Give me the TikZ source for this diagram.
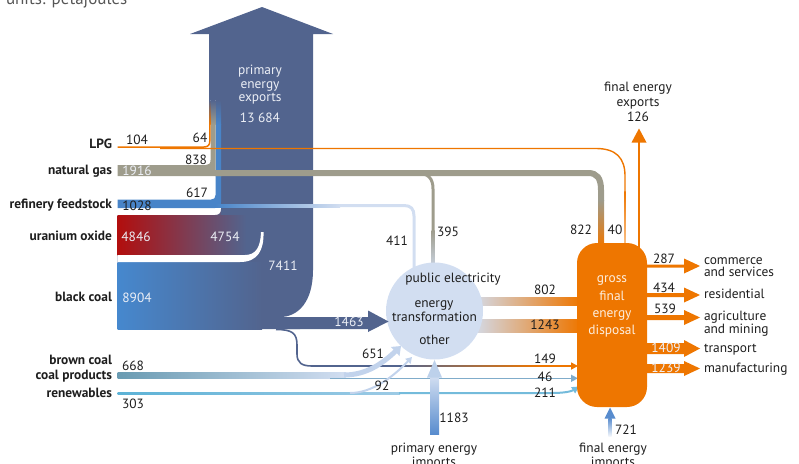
\documentclass[tikz,border=0pt]{standalone}
\usepackage{fontspec}
\setmainfont{PT Sans}
\usetikzlibrary{arrows.meta}
\definecolor{slate}{RGB}{82,100,142}
\definecolor{eorange}{RGB}{238,118,0}
\definecolor{lorange}{RGB}{250,195,140}
\definecolor{gasgray}{RGB}{158,156,140}
\definecolor{refblue}{RGB}{72,132,200}
\definecolor{uranred}{RGB}{178,14,14}
\definecolor{coalblue}{RGB}{70,136,206}
\definecolor{pale}{RGB}{210,222,241}
\definecolor{midmauve}{RGB}{214,198,204}
\definecolor{browncoal}{RGB}{105,155,178}
\definecolor{bluegray}{RGB}{128,172,202}
\definecolor{renew}{RGB}{92,178,214}
\definecolor{impblue}{RGB}{88,140,206}
\definecolor{txt}{RGB}{30,30,30}
\definecolor{wtxt}{RGB}{236,239,246}
\begin{document}
\begin{tikzpicture}[x=1pt,y=-1pt,
  every node/.style={inner sep=0pt, outer sep=0pt},
  lab/.style={anchor=base east, font=\fontsize{13.4}{15}\selectfont\bfseries, text=txt},
  num/.style={anchor=base, font=\fontsize{13.4}{15}\selectfont, text=txt},
  wnum/.style={num, text=wtxt},
  rlab/.style={anchor=base west, font=\fontsize{13.4}{15}\selectfont, text=txt},
  smallhead/.style={-{Triangle[length=7pt,width=7pt]}},
]
\useasboundingbox (0,0) rectangle (799,463);

\node[anchor=base west, font=\fontsize{17}{19}\selectfont, text=txt!75!white] (units) at (6,4.3) {units: petajoules};

% primary energy exports shaft
\fill[slate] (209,100) -- (209,34) -- (190,34) -- (262,7) -- (333,34) -- (313,34) -- (313,270)
  .. controls (313,302) and (298,317) .. (280,317) -- (300,317) -- (300,329) -- (117.5,329)
  -- (117.5,215) -- (221,215) -- (221,100) -- cycle;
% uranium oxide and black coal
\shade[left color=uranred, right color=slate] (117.5,215) rectangle (246,255);
\shade[left color=coalblue, right color=slate] (117.5,262) rectangle (262,329);
\fill[white] (117.5,255) -- (245,255) .. controls (256,255) and (260.5,247) .. (261,232) -- (263.5,232)
  .. controls (264,250) and (258,262) .. (240,262) -- (117.5,262) -- cycle;
\fill[slate!88!uranred] (215,215) .. controls (219,215) and (221,213) .. (221,209) -- (221,215) -- cycle;

% refinery feedstock
\fill[refblue] (117.5,199.5) -- (211,199.5) .. controls (214,199.5) and (215.5,198) .. (215.5,195) -- (215.5,124)
  -- (221,124) -- (221,202) .. controls (221,206) and (219,208) .. (215,208) -- (117.5,208) -- cycle;
\shade[top color=slate, bottom color=refblue] (215.5,100) rectangle (221,124.5);
% natural gas
\fill[gasgray] (117.5,165) -- (206,165) .. controls (209,165) and (210.5,163.5) .. (210.5,160) -- (210.5,124)
  -- (215.5,124) -- (215.5,170) -- (222,170) -- (222,176) -- (117.5,176) -- cycle;
\shade[top color=slate, bottom color=gasgray] (210.5,100) rectangle (215.5,124.5);
% LPG
\draw[eorange, line width=1.5pt] (117.5,147) -- (204,147) .. controls (208,147) and (209.8,145) .. (209.8,141) -- (209.8,124);
\shade[top color=slate, bottom color=eorange] (209.05,100) rectangle (210.55,124.5);

% LPG 40 to gross final
\draw[eorange, line width=1.4pt] (160,148.5) -- (596,148.5) .. controls (616,148.5) and (625,158) .. (625,176) -- (625,192);
\shade[top color=eorange, bottom color=lorange] (624.3,191.5) rectangle (625.7,246);
% natural gas 822 and 395
\draw[gasgray, line width=6pt] (215,173) -- (588,173) .. controls (597,173) and (601,178) .. (601,190) -- (601,201);
\shade[top color=gasgray, bottom color=eorange] (598,200) rectangle (604,246);
\draw[gasgray, line width=3pt] (416,173) .. controls (428,173) and (433,178) .. (433,189) -- (433,231);
\shade[top color=gasgray, bottom color=pale] (431.5,230) rectangle (434.5,275);
% refinery 411
\shade[left color=refblue, right color=pale] (215.5,204) rectangle (340,207);
\draw[pale, line width=3pt] (339,205.5) -- (404,205.5) .. controls (411,205.5) and (414,209) .. (414,216) -- (414,280);

% 802 and 1243
\shade[left color=pale, middle color=midmauve, right color=eorange] (470,297) rectangle (580,305);
\shade[left color=pale, middle color=midmauve, right color=eorange] (470,319) rectangle (580,332);

% black coal 149
\draw[slate, line width=1.6pt] (276,329.5) .. controls (292,329.5) and (297,333) .. (297,345) -- (297,354)
  .. controls (297,363) and (302,366) .. (312,366) -- (400,366);
\shade[left color=slate, right color=eorange] (399.5,365.2) rectangle (540,366.8);
\draw[eorange, line width=1.6pt, smallhead] (539,366) -- (578,366);
% brown coal
\shade[left color=browncoal, right color=pale] (117.5,372) rectangle (346,378);
\draw[bluegray, line width=1.4pt, smallhead] (330,378.3) -- (578,378.3);
% renewables
\shade[left color=renew, right color=renew!45!pale] (117.5,392) rectangle (400,394);
\draw[renew!80!pale, line width=2pt, smallhead] (399,393) -- (552,393) .. controls (566,393) and (572,391) .. (579,386.5);

% energy transformation
\node[circle, fill=pale, minimum size=97pt] (et) at (434.5,311) {};

% 1463 arrow
\fill[slate] (285,317) -- (368,317) -- (368,310.5) -- (388.5,321.5) -- (368,332) -- (368,329) -- (285,329) -- cycle;
% 651 and 92
\draw[pale!88!refblue, line width=5pt, -{Triangle[length=8pt,width=12pt]}] (344,375) .. controls (366,375) and (382,364) .. (401,346);
\draw[pale!88!refblue, line width=2pt, -{Triangle[length=6pt,width=7pt]}] (350,393) .. controls (372,393) and (393,377) .. (412,357);
% primary energy imports
\shade[top color=pale, bottom color=impblue] (430,376) rectangle (439,434);
\fill[pale!85!refblue] (427,377.5) -- (442,377.5) -- (434.5,360) -- cycle;

% gross final energy disposal
\node[fill=eorange, rounded corners=20pt, minimum width=70pt, minimum height=164pt] (gfd) at (612,325) {};
% final energy exports
\draw[eorange, line width=2.2pt] (639,250) -- (639,141);
\fill[eorange] (631.5,142.5) -- (646.5,142.5) -- (639,128.5) -- cycle;
% final energy imports
\shade[top color=impblue, bottom color=white!70!pale] (608.3,418) rectangle (611.7,436);
\fill[impblue] (604.5,418.5) -- (615.5,418.5) -- (610,407.5) -- cycle;
% outflows
\fill[eorange] (644,264.5) -- (684,264.5) -- (684,258.5) -- (700,266) -- (684,273.5) -- (684,267.5) -- (644,267.5) -- cycle;
\fill[eorange] (644,293) -- (684,293) -- (684,287.5) -- (700,295) -- (684,302.5) -- (684,297) -- (644,297) -- cycle;
\fill[eorange] (644,315) -- (684,315) -- (684,310) -- (700,317.5) -- (684,325) -- (684,320) -- (644,320) -- cycle;
\fill[eorange] (644,343) -- (684,343) -- (684,340) -- (700,348.5) -- (684,357) -- (684,354) -- (644,354) -- cycle;
\fill[eorange] (644,364) -- (684,364) -- (684,361) -- (700,368.5) -- (684,376) -- (684,373) -- (644,373) -- cycle;

% left labels
\node[lab] (lLPG) at (112,148.5) {LPG};
\node[lab] (lgas) at (112,174.5) {natural gas};
\node[lab] (lref) at (112,208.5) {refinery feedstock};
\node[lab] (lura) at (112,240.5) {uranium oxide};
\node[lab] (lblk) at (112,301.5) {black coal};
\node[lab] (lbrn) at (112,364.5) {brown coal};
\node[lab] (lcp) at (112,379.5) {coal products};
\node[lab] (lren) at (112,397.5) {renewables};

% numbers
\node[num] (n104) at (137,144.5) {104};
\node[num] (n64) at (200,142.5) {64};
\node[num] (n838) at (196,164.5) {838};
\node[wnum] (n1916) at (137,175.5) {1916};
\node[num] (n617) at (197,197.5) {617};
\node[num] (n1028) at (137,210.5) {1028};
\node[wnum] (n4846) at (136,241.5) {4846};
\node[wnum] (n4754) at (225,241.5) {4754};
\node[wnum] (n7411) at (283,270.5) {7411};
\node[wnum] (n8904) at (137,302.5) {8904};
\node[wnum] (n1463) at (349,326.5) {1463};
\node[num] (n668) at (133,370.5) {668};
\node[num] (n303) at (133,408.5) {303};
\node[num] (n651) at (373,358.5) {651};
\node[num] (n92) at (382,390.5) {92};
\node[num] (n411) at (397,245.5) {411};
\node[num] (n395) at (448,236.5) {395};
\node[num] (n822) at (581,234.5) {822};
\node[num] (n40) at (615,234.5) {40};
\node[num] (n802) at (545,294.5) {802};
\node[num] (n1243) at (545,329.5) {1243};
\node[num] (n149) at (545,363.5) {149};
\node[num] (n46) at (545,381.5) {46};
\node[num] (n211) at (545,397.5) {211};
\node[num] (n1183) at (454,422.5) {1183};
\node[num] (n721) at (626,434.5) {721};
\node[num] (n287) at (664,263.5) {287};
\node[num] (n434) at (664,292.5) {434};
\node[num] (n539) at (665,313.5) {539};
\node[wnum] (n1409) at (666,352.5) {1409};
\node[wnum] (n1239) at (666,372.5) {1239};

% primary energy exports text
\node[wnum] (pe1) at (260,74) {primary};
\node[wnum] (pe2) at (260,88) {energy};
\node[wnum] (pe3) at (260,101) {exports};
\node[wnum] (pe4) at (260,122) {13 684};

% circle text
\node[num] (c1) at (453,282) {public electricity};
\node[num] (c2) at (434,307) {energy};
\node[num] (c3) at (434.5,321.5) {transformation};
\node[num] (c4) at (434.5,344.5) {other};

% gross final text
\node[num, text=white!88!eorange] (g1) at (612,282) {gross};
\node[num, text=white!88!eorange] (g2) at (612,300) {final};
\node[num, text=white!88!eorange] (g3) at (612,317) {energy};
\node[num, text=white!88!eorange] (g4) at (612,334) {disposal};

% other texts
\node[num] (fe1) at (638,91.5) {final energy};
\node[num] (fe2) at (638,106.5) {exports};
\node[num] (fe3) at (638,121.5) {126};
\node[num] (pi1) at (434,452) {primary energy};
\node[num] (pi2) at (434,466) {imports};
\node[num] (fi1) at (613,452) {final energy};
\node[num] (fi2) at (613,466) {imports};

\node[rlab] (r1) at (704,264.5) {commerce};
\node[rlab] (r1b) at (704,276.5) {and services};
\node[rlab] (r2) at (704,298.5) {residential};
\node[rlab] (r3) at (704,320.5) {agriculture};
\node[rlab] (r3b) at (704,333) {and mining};
\node[rlab] (r4) at (704,352) {transport};
\node[rlab] (r5) at (704,372) {manufacturing};
\end{tikzpicture}
\end{document}
